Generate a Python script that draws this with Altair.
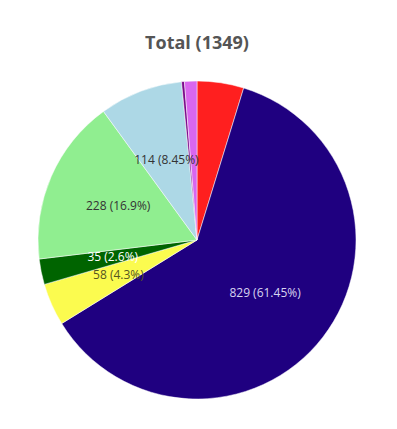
import altair as alt
import pandas as pd

categories = ["A", "B", "C", "D", "E", "F", "G", "H"]
values = [64, 829, 58, 35, 228, 114, 4, 17]
percent_labels = ["", "61.45%", "4.3%", "2.6%", "16.9%", "8.45%", "", ""]
colors = ["#ff1f1f", "#1f0080", "#fbfb4f", "#006400", "#90ee90", "#add8e6", "#7a0a8a", "#d966ee"]
label_colors = ["#333333", "#d8d4f0", "#555522", "#ffffff", "#333333", "#333333", "#333333", "#333333"]

rows = []
for i, (c, v) in enumerate(zip(categories, values)):
    rows.append({
        "cat": c, "value": v, "order": i,
        "label": f"{v} ({percent_labels[i]})" if percent_labels[i] else "",
        "lcolor": label_colors[i],
    })
df = pd.DataFrame(rows)

base = alt.Chart(df).encode(
    theta=alt.Theta("value:Q", stack=True),
    order=alt.Order("order:Q"),
)

pie = base.mark_arc(outerRadius=159, stroke="white", strokeWidth=0.5).encode(
    color=alt.Color("cat:N", scale=alt.Scale(domain=categories, range=colors), legend=None),
)

text = base.mark_text(radius=86, fontSize=12, font="Open Sans").encode(
    text="label:N",
    color=alt.Color("lcolor:N", scale=None),
)

chart = (pie + text).properties(
    width=378,
    height=340,
    title=alt.TitleParams(
        "Total (1349)", fontSize=18, font="Open Sans", fontWeight="bold",
        color="#555555", anchor="middle", offset=17,
    ),
).configure_view(stroke=None).configure(padding={"top": 27, "left": 0, "right": 0, "bottom": 0})

chart.save("out.html", embed_options={"renderer": "svg", "actions": False})
